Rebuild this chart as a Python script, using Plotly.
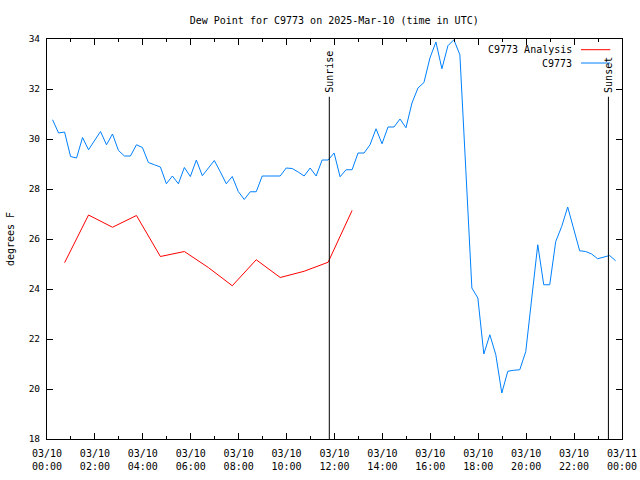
import plotly.graph_objects as go
import pandas as pd

# Blue series (C9773 observations), every 15 min starting 00:14 UTC
blue_start = "2025-03-10 00:14"
blue_vals = [30.77, 30.24, 30.28, 29.30, 29.24, 30.06, 29.57, 29.93, 30.30, 29.77,
             30.20, 29.54, 29.32, 29.32, 29.77, 29.66, 29.06, 28.97, 28.88, 28.21,
             28.52, 28.21, 28.86, 28.50, 29.16, 28.53, 28.85, 29.14, 28.69, 28.21,
             28.50, 27.90, 27.58, 27.89, 27.89, 28.52, 28.52, 28.52, 28.52, 28.84,
             28.82, 28.68, 28.52, 28.84, 28.52, 29.16, 29.16, 29.44, 28.49, 28.77,
             28.77, 29.44, 29.44, 29.77, 30.41, 29.81, 30.48, 30.48, 30.80, 30.45,
             31.44, 32.04, 32.26, 33.24, 33.88, 32.81, 33.73, 33.97, 33.37, 28.73,
             24.04, 23.64, 21.40, 22.17, 21.37, 19.84, 20.71, 20.75, 20.77, 21.50,
             23.57, 25.77, 24.17, 24.17, 25.90, 26.50, 27.28, 26.40, 25.53, 25.50,
             25.40, 25.21, 25.28, 25.34, 25.13]
blue_times = pd.date_range(blue_start, periods=len(blue_vals), freq="15min")

# Red series (C9773 Analysis), hourly at :44
red_start = "2025-03-10 00:44"
red_vals = [25.05, 26.96, 26.47, 26.94, 25.30, 25.50, 24.86, 24.13, 25.17, 24.46,
            24.71, 25.07, 27.14]
red_times = pd.date_range(red_start, periods=len(red_vals), freq="60min")

sunrise = "2025-03-10 11:47"
sunset = "2025-03-10 23:26"

title = "Dew Point for C9773 on 2025-Mar-10 (time in UTC)"
red_name = "C9773 Analysis"
blue_name = "C9773"

FONT = "DejaVu Sans Mono"
RED = "#ff0000"
BLUE = "rgb(0,128,255)"

fig = go.Figure()
fig.add_trace(go.Scatter(x=red_times, y=red_vals, mode="lines", name=red_name,
                         line=dict(color=RED, width=1)))
fig.add_trace(go.Scatter(x=blue_times, y=blue_vals, mode="lines", name=blue_name,
                         line=dict(color=BLUE, width=1)))

# Sunrise / sunset markers
for t, label in [(sunrise, "Sunrise"), (sunset, "Sunset")]:
    fig.add_shape(type="line", xref="x", yref="y", x0=t, x1=t, y0=18, y1=31.69,
                  line=dict(color="black", width=1))
    fig.add_annotation(x=t, y=31.78, xref="x", yref="y", text=label, textangle=-90,
                       showarrow=False, xanchor="center", yanchor="bottom",
                       font=dict(family=FONT, size=10, color="black"))

L, R = 46.7, 621.7
W = R - L

# Gnuplot-style legend (text, then sample line on its right)
for i, (name, col) in enumerate([(red_name, RED), (blue_name, BLUE)]):
    ypix = 50 + i * 13.3
    yp = 1 - (ypix - 39.3) / 400.0
    fig.add_annotation(x=(574 - L) / W, y=yp, xref="paper", yref="paper", text=name,
                       showarrow=False, xanchor="right", yanchor="middle",
                       font=dict(family=FONT, size=10, color="black"))
    fig.add_shape(type="line", xref="paper", yref="paper",
                  x0=(580.7 - L) / W, x1=(610 - L) / W, y0=yp, y1=yp,
                  line=dict(color=col, width=1))

fig.update_layout(
    width=640, height=480,
    margin=dict(l=L, r=640 - R, t=39.3, b=480 - 439.3),
    paper_bgcolor="white", plot_bgcolor="white",
    showlegend=False,
    font=dict(family=FONT, size=9, color="black"),
    title=dict(text=title, x=(L + R) / 2 / 640, xanchor="center", y=1 - 20 / 480,
               yanchor="middle", font=dict(family=FONT, size=10, color="black")),
)
fig.update_xaxes(
    range=["2025-03-10 00:00", "2025-03-11 00:00"],
    tickmode="linear", tick0="2025-03-10 00:00", dtick=2 * 3600 * 1000,
    tickformat="%m/%d<br>%H:%M", automargin=False, ticklabelstandoff=5,
    ticks="inside", ticklen=6, tickcolor="black",
    minor=dict(ticks="inside", ticklen=3, dtick=3600 * 1000, tickcolor="black"),
    showline=True, linecolor="black", linewidth=1, mirror="allticks",
    showgrid=False, zeroline=False,
    tickfont=dict(family=FONT, size=10, color="black"),
)
fig.update_yaxes(
    range=[18, 34], tickmode="linear", tick0=18, dtick=2, automargin=False,
    ticklabelstandoff=4,
    ticks="inside", ticklen=6, tickcolor="black",
    showline=True, linecolor="black", linewidth=1, mirror="allticks",
    showgrid=False, zeroline=False,
    title=dict(text="degrees F", font=dict(family=FONT, size=10, color="black"), standoff=12),
    tickfont=dict(family=FONT, size=9.5, color="black"),
)

fig.write_html("out.html")
